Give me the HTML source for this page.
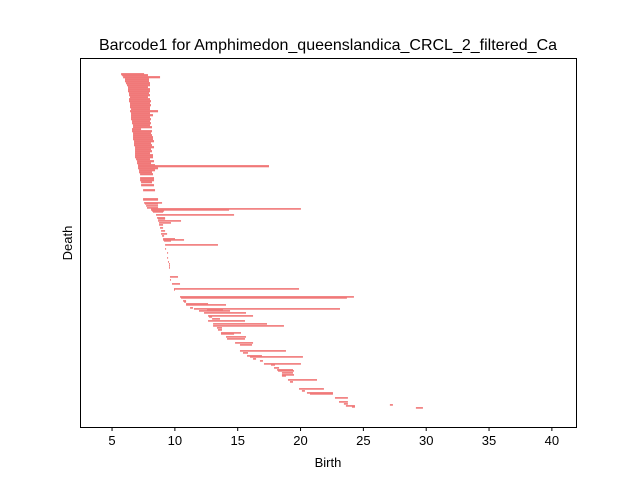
<!DOCTYPE html>
<html><head><meta charset="utf-8"><style>
body{margin:0;background:#fff;}
svg{display:block;font-family:"Liberation Sans","DejaVu Sans",sans-serif;}
</style></head><body>
<svg id="chart" width="640" height="480" viewBox="0 0 640 480">
<rect width="640" height="480" fill="#fff"/>
<text x="328" y="50" font-size="16" text-anchor="middle" fill="#000">Barcode1 for Amphimedon_queenslandica_CRCL_2_filtered_Ca</text>
<g id="bars"></g>
<rect x="80.5" y="58.5" width="496" height="369" fill="none" stroke="#000" stroke-width="1"/>
<g id="xticks"></g>
<text x="328" y="467" font-size="13" text-anchor="middle">Birth</text>
<text x="72" y="243" font-size="13" text-anchor="middle" transform="rotate(-90 72 243)">Death</text>
</svg>
<script>
const tickValues=[5,10,15,20,25,30,35,40];
const tickLabels=["5","10","15","20","25","30","35","40"];
const ranks=[0,1,3,5,7,9,11,13,15,17,19,21,23,25,27,29,31,33,35,37,39,41,43,45,47,49,51,53,55,57,59,61,63,65,67,69,71,73,75,77,79,81,83,85,87,89,91,92,94,96,98,100,104,106,108,111,116,
125,126,129,130,132,134,135,136,137,138,141,144,145,147,149,151,154,157,160,162,165,166,167,171,175,179,184,188,190,192,194,203,206,210,215,216,
223,224,227,228,230,231,234,235,236,237,239,242,243,245,247,250,252,254,256,259,260,263,265,269,271,277,279,282,283,285,287,290,291,294,296,297,299,301,302,306,308,315,317,319,320,324,328,330,332,333,331,334];
const births=[5.72,5.80,5.88,6.03,6.03,6.11,6.19,6.27,6.27,6.27,6.35,6.35,6.43,6.35,6.35,6.43,6.43,6.43,6.51,6.43,6.51,6.51,6.51,6.51,6.59,6.59,6.67,6.67,6.59,6.59,6.67,6.67,6.67,6.67,6.75,6.75,6.75,6.83,6.83,6.83,6.83,6.83,6.83,6.91,6.99,6.99,7.07,7.07,7.07,7.15,7.15,7.23,7.23,7.23,7.31,7.31,7.47,
7.47,7.47,7.55,7.63,7.71,7.78,8.10,8.10,8.18,8.26,8.50,8.58,8.66,8.66,8.74,8.74,8.82,8.90,8.90,8.98,9.06,9.06,9.14,9.22,9.22,9.38,9.38,9.45,9.53,9.53,9.53,9.61,9.61,9.77,9.93,9.93,
10.41,10.49,10.65,10.73,10.89,10.89,11.21,11.52,12.56,11.92,12.32,12.64,12.72,12.96,12.64,13.04,13.04,13.35,13.43,13.67,13.67,14.07,14.15,14.79,15.18,15.18,15.42,15.74,15.98,16.22,16.77,17.09,17.65,17.89,18.13,18.21,18.52,18.52,18.52,19.0,19.16,19.88,20.11,20.51,20.75,22.74,23.06,23.45,23.61,24.09,27.11,29.18];
const deaths=[7.55,7.86,8.82,7.94,7.94,8.02,8.02,7.86,8.02,8.02,7.94,8.02,7.86,8.02,8.10,8.02,8.10,8.02,8.02,8.66,8.02,8.26,8.02,8.10,8.02,8.10,8.02,8.18,7.31,8.18,8.10,8.18,8.26,8.26,8.34,8.10,8.18,8.34,8.10,8.18,8.02,8.26,8.26,8.02,8.34,8.10,8.42,17.49,8.66,8.42,8.18,8.26,8.34,8.34,8.18,8.34,8.42,
8.66,8.66,8.98,8.66,8.66,8.66,20.03,14.31,9.14,9.06,14.71,9.22,9.22,10.49,9.69,9.06,9.06,9.22,9.38,9.14,10.01,10.73,9.69,13.43,9.30,9.45,9.45,9.53,9.61,9.61,9.61,10.25,9.69,10.41,19.88,10.01,
24.25,23.69,10.89,10.89,12.64,14.07,11.44,23.14,13.83,14.39,15.66,16.22,12.96,13.59,15.58,17.33,18.68,13.75,13.75,15.26,14.71,15.66,15.58,16.22,16.14,18.84,15.82,16.93,20.19,16.46,17.01,20.03,17.97,18.29,19.40,19.48,19.40,19.48,18.84,21.31,19.40,21.86,20.35,22.58,22.58,23.77,23.77,23.77,24.33,24.33,27.35,29.74];
const xMin=2.45,xMax=41.92,L=80,R=576;
const xScale=v=>L+(v-xMin)/(xMax-xMin)*(R-L);
const yScale=r=>74+r;
const NS="http://www.w3.org/2000/svg";
const g=document.getElementById('bars');
for(let i=0;i<births.length;i++){
  const x0=xScale(births[i]),x1=xScale(deaths[i]);
  const r=document.createElementNS(NS,'rect');
  r.setAttribute('x',x0);r.setAttribute('y',yScale(ranks[i])-0.9);
  r.setAttribute('width',Math.max(1,x1-x0));r.setAttribute('height',i<57?2.2:1.6);
  r.setAttribute('fill','#f07878');
  
  
  g.appendChild(r);
}
const xt=document.getElementById('xticks');
tickValues.forEach((v,i)=>{
  const x=xScale(v);
  const l=document.createElementNS(NS,'line');
  l.setAttribute('x1',x);l.setAttribute('x2',x);l.setAttribute('y1',427.5);l.setAttribute('y2',431);
  l.setAttribute('stroke','#000');
  
  
  xt.appendChild(l);
  const t=document.createElementNS(NS,'text');
  t.setAttribute('x',x);t.setAttribute('y',445);t.setAttribute('font-size','13');t.setAttribute('text-anchor','middle');
  t.textContent=tickLabels[i];
  
  
  xt.appendChild(t);
});
</script>
</body></html>
